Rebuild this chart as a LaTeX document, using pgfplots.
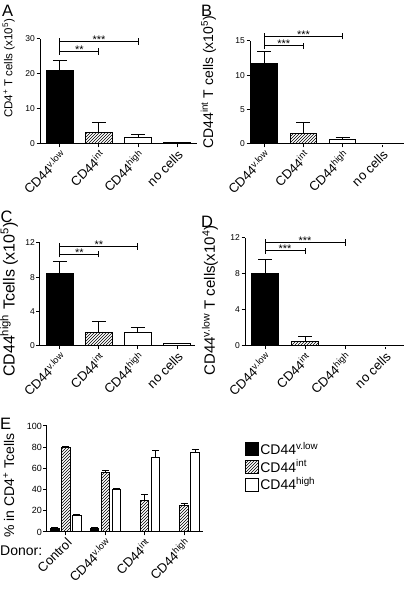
\documentclass[border=0pt]{standalone}
\usepackage{fontspec}
\setmainfont{Liberation Sans}
\usepackage{pgfplots}
\pgfplotsset{compat=1.18}
\usetikzlibrary{patterns}
\newcommand{\fs}[1]{\fontsize{#1}{#1}\selectfont}
\pgfplotsset{
 panel/.style={
  scale only axis, anchor=south west,
  axis lines*=left, axis line style={line width=1pt},
  tick align=outside, major tick length=3.5pt,
  tick style={line width=1pt, black},
  xtick={0,1,2,3},
  xticklabel style={rotate=45, anchor=north east, font=\fs{13}, inner sep=1pt},
  yticklabel style={font=\fs{8.5}, inner sep=1.5pt},
  /pgf/number format/assume math mode=true,
  ymin=0, clip=false,
  every axis y label/.style={rotate=90, anchor=center},
 },
 mybar/.style={ybar, bar width=#1, bar shift=0pt, draw=black, line width=1pt},
 err/.style={error bars/.cd, y dir=plus, y explicit,
   error bar style={line width=1pt, black},
   error mark options={rotate=90, line width=1pt, mark size=#1, black}},
}
\tikzset{stars/.style={font=\fs{11}, anchor=south, inner sep=0pt, yshift=-2.3pt}}
\newcommand{\sigbr}[4]{%
 \draw[line width=1pt] ([yshift=-3.3pt]axis cs:0,#1) -- ([yshift=3.3pt]axis cs:0,#2);
 \draw[line width=1pt] (axis cs:0,#1) -- (axis cs:1,#1);
 \draw[line width=1pt] ([yshift=-3.3pt]axis cs:1,#1) -- ([yshift=3.3pt]axis cs:1,#1);
 \draw[line width=1pt] (axis cs:0,#2) -- (axis cs:2,#2);
 \draw[line width=1pt] ([yshift=-3.3pt]axis cs:2,#2) -- ([yshift=3.3pt]axis cs:2,#2);
 \node[stars] at (axis cs:0.5,#1) {#3};
 \node[stars] at (axis cs:1,#2) {#4};
}
\begin{document}
\begin{tikzpicture}
\useasboundingbox (0,0) rectangle (404pt,589pt);
% panel letters
\node[anchor=base west, inner sep=0pt, font=\fs{16.5}] at (2pt,572pt) {A};
\node[anchor=base west, inner sep=0pt, font=\fs{16.5}] at (201pt,572pt) {B};
\node[anchor=base west, inner sep=0pt, font=\fs{16.5}] at (0.5pt,366pt) {C};
\node[anchor=base west, inner sep=0pt, font=\fs{16.5}] at (201pt,361pt) {D};
\node[anchor=base west, inner sep=0pt, font=\fs{16.5}] at (0pt,159pt) {E};

% ---------------- A
\begin{axis}[panel, at={(40pt,445pt)}, width=157pt, height=105pt,
  xmin=-0.51, xmax=3.51, ymax=30, ytick={0,10,20,30},
  xticklabels={CD44\textsuperscript{v.low}, CD44\textsuperscript{int}, CD44\textsuperscript{high}, no cells},
  ylabel={CD4\textsuperscript{+} T cells (x10\textsuperscript{5})},
  ylabel style={at={(axis description cs:-0.2,0.72)}, font=\fs{11.5}}]
\addplot[mybar=0.69, fill=black, err=7pt] coordinates {(0,20.9) +- (0,3.0)};
\addplot[mybar=0.69, pattern=north east lines, err=7pt] coordinates {(1,3.25) +- (0,2.85)};
\addplot[mybar=0.69, fill=white, err=7pt] coordinates {(2,1.9) +- (0,0.9)};
\addplot[mybar=0.69, fill=white] coordinates {(3,0.3)};
\sigbr{26.4}{29.3}{**}{***}
\end{axis}

% ---------------- B
\begin{axis}[panel, at={(250pt,445pt)}, width=154pt, height=103pt,
  xmin=-0.36, xmax=3.56, ymax=15, ytick={0,5,10,15},
  xticklabels={CD44\textsuperscript{v.low}, CD44\textsuperscript{int}, CD44\textsuperscript{high}, no cells},
  ylabel={CD44\textsuperscript{int} T cells (x10\textsuperscript{5})},
  ylabel style={at={(axis description cs:-0.27,0.60)}, font=\fs{14}}]
\addplot[mybar=0.66, fill=black, err=7pt] coordinates {(0,11.7) +- (0,1.8)};
\addplot[mybar=0.66, pattern=north east lines, err=7pt] coordinates {(1,1.6) +- (0,1.5)};
\addplot[mybar=0.66, fill=white, err=7pt] coordinates {(2,0.68) +- (0,0.2)};
\addplot[mybar=0.66, fill=white] coordinates {(3,0.05)};
\sigbr{14.3}{15.7}{***}{***}
\end{axis}

% ---------------- C
\begin{axis}[panel, at={(40pt,243pt)}, width=155pt, height=103pt,
  xmin=-0.51, xmax=3.46, ymax=12, ytick={0,4,8,12},
  xticklabels={CD44\textsuperscript{v.low}, CD44\textsuperscript{int}, CD44\textsuperscript{high}, no cells},
  ylabel={CD44\textsuperscript{high} Tcells (x10\textsuperscript{5})},
  ylabel style={at={(axis description cs:-0.2,0.45)}, font=\fs{16}}]
\addplot[mybar=0.69, fill=black, err=7pt] coordinates {(0,8.45) +- (0,1.45)};
\addplot[mybar=0.69, pattern=north east lines, err=7pt] coordinates {(1,1.57) +- (0,1.33)};
\addplot[mybar=0.69, fill=white, err=7pt] coordinates {(2,1.6) +- (0,0.55)};
\addplot[mybar=0.69, fill=white] coordinates {(3,0.27)};
\sigbr{10.7}{11.6}{**}{**}
\end{axis}

% ---------------- D
\begin{axis}[panel, at={(245pt,243pt)}, width=159pt, height=108pt,
  xmin=-0.5, xmax=3.475, ymax=12, ytick={0,4,8,12},
  xticklabels={CD44\textsuperscript{v.low}, CD44\textsuperscript{int}, CD44\textsuperscript{high}, no cells},
  ylabel={CD44\textsuperscript{v.low} T cells(x10\textsuperscript{4})},
  ylabel style={at={(axis description cs:-0.22,0.42)}, font=\fs{15}}]
\addplot[mybar=0.675, fill=black, err=7pt] coordinates {(0,8.0) +- (0,1.56)};
\addplot[mybar=0.675, pattern=north east lines, err=7pt] coordinates {(1,0.5) +- (0,0.55)};
\addplot[mybar=0.675, fill=white] coordinates {(2,0.1)};
\addplot[mybar=0.675, fill=white] coordinates {(3,0.05)};
\sigbr{10.57}{11.5}{***}{***}
\end{axis}

% ---------------- E
\begin{axis}[panel, at={(47pt,57pt)}, width=156pt, height=106pt,
  xmin=-0.48, xmax=3.48, ymax=100, ytick={0,20,40,60,80,100},
  yticklabel style={font=\fs{9}},
  xticklabels={Control, CD44\textsuperscript{v.low}, CD44\textsuperscript{int}, CD44\textsuperscript{high}},
  ylabel={\% in CD4\textsuperscript{+} Tcells},
  ylabel style={at={(axis description cs:-0.245,0.44)}, font=\fs{14}},
  legend style={at={(axis description cs:1.26,0.88)}, anchor=north west, draw=none,
    font=\fs{14}, row sep=0pt, inner sep=1pt},
  legend cell align=left,
  legend image code/.code={\draw[#1, line width=0.6pt] (0pt,-6.5pt) rectangle (13pt,6.5pt);}]
\addplot[mybar=0.215, fill=black, err=3.5pt] coordinates {(-0.28,3.5) +- (0,0.5) (0.72,3.5) +- (0,0.5) (1.72,0.6) +- (0,0.2) (2.72,0.6) +- (0,0.2)};
\addlegendentry{CD44\textsuperscript{v.low}}
\addplot[mybar=0.215, pattern=north east lines, err=3.5pt] coordinates {(0,79.7) +- (0,0.9) (1,56.2) +- (0,1.8) (2,29.5) +- (0,5.7) (3,24.8) +- (0,2.5)};
\addlegendentry{CD44\textsuperscript{int}}
\addplot[mybar=0.215, fill=white, err=3.5pt] coordinates {(0.28,15.9) +- (0,0.9) (1.28,40) +- (0,1.3) (2.28,70.2) +- (0,6.3) (3.28,75) +- (0,2.8)};
\addlegendentry{CD44\textsuperscript{high}}
\node[anchor=base west, inner sep=0pt, font=\fs{14}] at (axis description cs:-0.301,-0.22) {Donor:};
\end{axis}
\end{tikzpicture}
\end{document}
